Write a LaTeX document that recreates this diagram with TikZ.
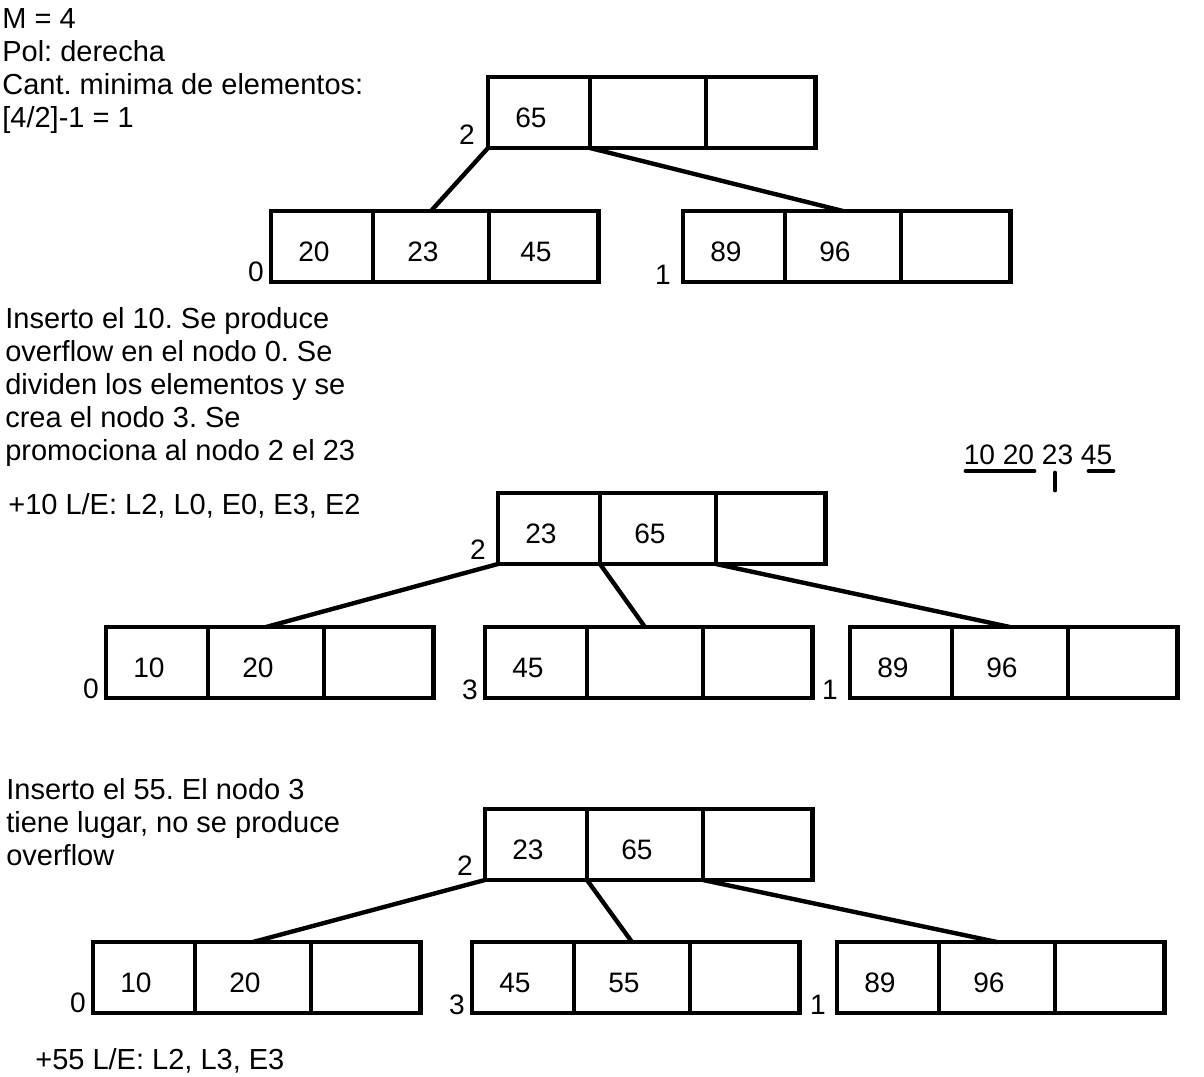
\documentclass[tikz,border=0pt]{standalone}
\usepackage{fontspec}
\setmainfont{Liberation Sans}
\usetikzlibrary{positioning}
\frenchspacing
\tikzset{
  celda/.style={draw, rectangle, line width=2.8pt, inner sep=0pt, outer sep=0pt,
    minimum height=1.42cm, text height=0.6cm, text depth=0cm,
    execute at begin node={\hspace*{-0.32cm}},
    font=\fontsize{16}{19}\selectfont},
  celdaa/.style={celda, minimum width=2.04cm},
  celdab/.style={celda, minimum width=2.32cm},
  celdac/.style={celda, minimum width=2.2cm},
  texto/.style={align=left, inner sep=0pt, font=\fontsize{16.5}{18.8}\selectfont},
  num/.style={inner sep=0pt, font=\fontsize{16}{19}\selectfont},
  rama/.style={line width=2.5pt},
  marca/.style={line width=2.8pt, line cap=round}
}
\begin{document}
\begin{tikzpicture}[x=0.02cm, y=-0.02cm]
  \useasboundingbox (0,0) rectangle (1204,1076);
  % textos
  \node[texto, anchor=north west] (t1) at (2,8)
    {M = 4\\Pol: derecha\\Cant. minima de elementos:\\{}[4/2]-1 = 1};
  \node[texto, anchor=north west] (t2) at (5,307)
    {Inserto el 10. Se produce\\overflow en el nodo 0. Se\\dividen los elementos y se\\crea el nodo 3. Se\\promociona al nodo 2 el 23};
  \node[texto, anchor=base west] (t3) at (8,514) {+10 L/E: L2, L0, E0, E3, E2};
  \node[texto, anchor=north west] (t4) at (6,778)
    {Inserto el 55. El nodo 3\\tiene lugar, no se produce\\overflow};
  \node[texto, anchor=base west] (t5) at (35,1069) {+55 L/E: L2, L3, E3};
  \node[num] (sep) at (1038,455) {10 20 23 45};
  \draw[marca] (966,471) -- (1034,471);
  \draw[marca] (1055,473) -- (1055,490);
  \draw[marca] (1089,471) -- (1113,471);

  % arbol inicial
  \node[celdaa, anchor=north west] (a2-1) at (488,77) {65};
  \node[celdab, right=0pt of a2-1] (a2-2) {};
  \node[celdac, right=0pt of a2-2] (a2-3) {};
  \node[celdaa, anchor=north west] (a0-1) at (271,211) {20};
  \node[celdab, right=0pt of a0-1] (a0-2) {23};
  \node[celdac, right=0pt of a0-2] (a0-3) {45};
  \node[celdaa, anchor=north west] (a1-1) at (683,211) {89};
  \node[celdab, right=0pt of a1-1] (a1-2) {96};
  \node[celdac, right=0pt of a1-2] (a1-3) {};
  \node[num] (la2) at (467,135) {2};
  \node[num] (la0) at (256,272) {0};
  \node[num] (la1) at (663,275) {1};
  \begin{scope}[rama]
    \draw (a2-1.south west) -- (a0-2.north);
    \draw (a2-1.south east) -- (a1-2.north);
  \end{scope}

  % arbol luego de insertar 10
  \node[celdaa, anchor=north west] (b2-1) at (498,493) {23};
  \node[celdab, right=0pt of b2-1] (b2-2) {65};
  \node[celdac, right=0pt of b2-2] (b2-3) {};
  \node[celdaa, anchor=north west] (b0-1) at (106,627) {10};
  \node[celdab, right=0pt of b0-1] (b0-2) {20};
  \node[celdac, right=0pt of b0-2] (b0-3) {};
  \node[celdaa, anchor=north west] (b3-1) at (485,627) {45};
  \node[celdab, right=0pt of b3-1] (b3-2) {};
  \node[celdac, right=0pt of b3-2] (b3-3) {};
  \node[celdaa, anchor=north west] (b1-1) at (850,627) {89};
  \node[celdab, right=0pt of b1-1] (b1-2) {96};
  \node[celdac, right=0pt of b1-2] (b1-3) {};
  \node[num] (lb2) at (478,550) {2};
  \node[num] (lb0) at (91,689) {0};
  \node[num] (lb3) at (470,690) {3};
  \node[num] (lb1) at (830,690) {1};
  \begin{scope}[rama]
    \draw (b2-1.south west) -- (b0-2.north);
    \draw (b2-1.south east) -- (b3-2.north);
    \draw (b2-2.south east) -- (b1-2.north);
  \end{scope}

  % arbol luego de insertar 55
  \node[celdaa, anchor=north west] (c2-1) at (485,809) {23};
  \node[celdab, right=0pt of c2-1] (c2-2) {65};
  \node[celdac, right=0pt of c2-2] (c2-3) {};
  \node[celdaa, anchor=north west] (c0-1) at (93,942) {10};
  \node[celdab, right=0pt of c0-1] (c0-2) {20};
  \node[celdac, right=0pt of c0-2] (c0-3) {};
  \node[celdaa, anchor=north west] (c3-1) at (472,942) {45};
  \node[celdab, right=0pt of c3-1] (c3-2) {55};
  \node[celdac, right=0pt of c3-2] (c3-3) {};
  \node[celdaa, anchor=north west] (c1-1) at (837,942) {89};
  \node[celdab, right=0pt of c1-1] (c1-2) {96};
  \node[celdac, right=0pt of c1-2] (c1-3) {};
  \node[num] (lc2) at (465,866) {2};
  \node[num] (lc0) at (78,1003) {0};
  \node[num] (lc3) at (457,1005) {3};
  \node[num] (lc1) at (818,1005) {1};
  \begin{scope}[rama]
    \draw (c2-1.south west) -- (c0-2.north);
    \draw (c2-1.south east) -- (c3-2.north);
    \draw (c2-2.south east) -- (c1-2.north);
  \end{scope}
\end{tikzpicture}
\end{document}
